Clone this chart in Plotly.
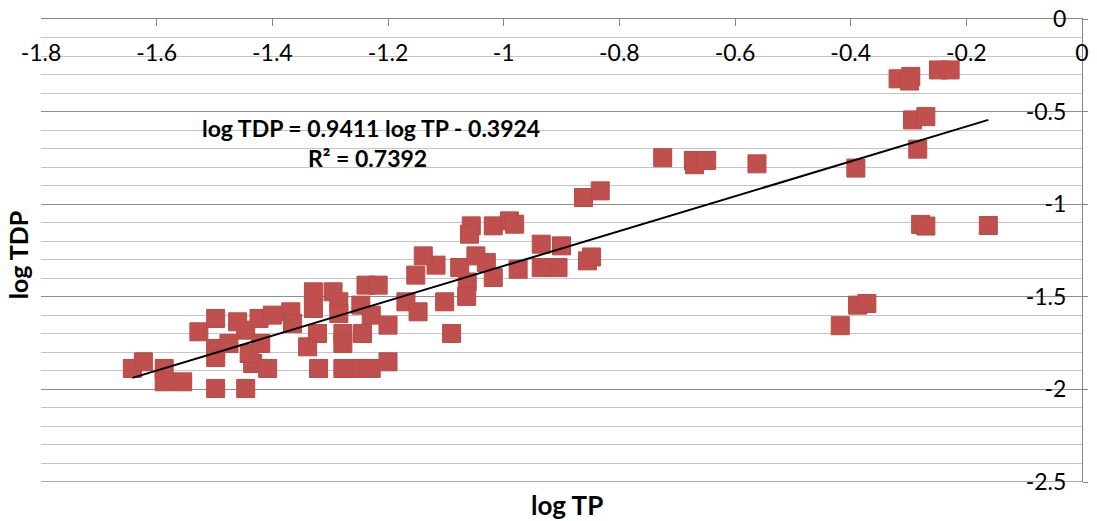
import plotly.graph_objects as go

# log TP (x) and log TDP (y) values
log_tp = [
    -1.642, -1.623, -1.587, -1.587, -1.555, -1.527, -1.498, -1.498, -1.498, -1.498,
    -1.446, -1.460, -1.446, -1.423, -1.400, -1.368, -1.434, -1.408, -1.440, -1.475,
    -1.420, -1.339,
    -1.329, -1.295, -1.329, -1.285, -1.285, -1.238, -1.217, -1.247, -1.229, -1.200,
    -1.169, -1.148, -1.152, -1.117, -1.102, -1.090, -1.063, -1.365, -1.322, -1.278,
    -1.278, -1.244, -1.320, -1.278, -1.247, -1.229, -1.200, -1.064,
    -1.056, -1.059, -1.018, -0.990, -0.981, -0.935, -0.900, -0.855, -0.848, -0.906,
    -0.935, -0.975, -1.139, -1.076, -1.048, -1.030, -1.018,
    -0.862, -0.833, -0.725, -0.672, -0.670, -0.649, -0.562, -0.391, -0.318, -0.296,
    -0.298, -0.248, -0.228, -0.293, -0.270, -0.284, -0.279, -0.270, -0.162, -0.418,
    -0.388, -0.372,
]
log_tdp = [
    -1.887, -1.851, -1.887, -1.959, -1.959, -1.689, -1.617, -1.779, -1.828, -1.995,
    -1.995, -1.635, -1.680, -1.617, -1.599, -1.581, -1.860, -1.887, -1.806, -1.752,
    -1.752, -1.770,
    -1.473, -1.473, -1.563, -1.527, -1.590, -1.437, -1.437, -1.545, -1.599, -1.653,
    -1.527, -1.581, -1.383, -1.329, -1.527, -1.698, -1.420, -1.644, -1.698, -1.698,
    -1.752, -1.698, -1.887, -1.887, -1.887, -1.887, -1.851, -1.498,
    -1.117, -1.162, -1.117, -1.090, -1.108, -1.216, -1.225, -1.306, -1.285, -1.342,
    -1.342, -1.351, -1.279, -1.342, -1.279, -1.315, -1.396,
    -0.964, -0.928, -0.749, -0.764, -0.787, -0.764, -0.782, -0.805, -0.323, -0.310,
    -0.335, -0.275, -0.275, -0.545, -0.527, -0.703, -1.109, -1.118, -1.115, -1.656,
    -1.545, -1.536,
]

# Linear trend (from the chart's equation)
slope = 0.9411
intercept = -0.3924
r2 = 0.7392

x_ticks = [-1.8, -1.6, -1.4, -1.2, -1.0, -0.8, -0.6, -0.4, -0.2, 0.0]
x_tick_text = ["-1.8", "-1.6", "-1.4", "-1.2", "-1", "-0.8", "-0.6", "-0.4", "-0.2", "0"]
y_ticks = [0.0, -0.5, -1.0, -1.5, -2.0, -2.5]
y_tick_text = ["0", "-0.5", "-1", "-1.5", "-2", "-2.5"]

FONT = "Lato"
TICK_SIZE = 23
X_RANGE = [-1.8, 0]
Y_RANGE = [-2.5, 0]

fig = go.Figure()

fig.add_trace(go.Scatter(
    x=log_tp, y=log_tdp, mode="markers",
    marker=dict(symbol="square", size=18, color="#C0504D",
                line=dict(color="#B84B48", width=1)),
    showlegend=False, hoverinfo="x+y",
))

x0, x1 = min(log_tp), max(log_tp)
fig.add_trace(go.Scatter(
    x=[x0, x1], y=[slope * x0 + intercept, slope * x1 + intercept],
    mode="lines", line=dict(color="black", width=2), showlegend=False,
))

# empty trace that carries the label-only axes
fig.add_trace(go.Scatter(x=[], y=[], xaxis="x2", yaxis="y2", showlegend=False))

fig.update_layout(
    width=1097, height=521,
    margin=dict(l=41, r=15, t=19, b=39, autoexpand=False),
    paper_bgcolor="white", plot_bgcolor="white",
    font=dict(family=FONT, size=20, color="black"),
    xaxis=dict(
        side="top", range=X_RANGE, tickmode="array", tickvals=x_ticks,
        ticks="inside", ticklen=7, tickcolor="#868686", tickwidth=1,
        showticklabels=False, showgrid=False, zeroline=False, automargin=False,
        showline=True, linecolor="#868686", linewidth=1.3,
    ),
    yaxis=dict(
        side="right", range=Y_RANGE, tickmode="array", tickvals=y_ticks,
        ticks="outside", ticklen=5, tickcolor="#868686",
        showticklabels=False, automargin=False,
        showgrid=True, gridcolor="#8E8E8E", gridwidth=1.3,
        minor=dict(dtick=0.1, tick0=0, showgrid=True, gridcolor="#C4C4C4", gridwidth=1.3),
        zeroline=False,
        showline=True, linecolor="#868686", linewidth=1.3,
    ),
    xaxis2=dict(
        overlaying="x", side="top", anchor="free", position=0.9,
        range=X_RANGE, tickmode="array", tickvals=x_ticks, ticktext=x_tick_text,
        ticks="", showgrid=False, zeroline=False, showline=False, automargin=False,
        tickfont=dict(family=FONT, size=TICK_SIZE, color="black"),
    ),
    yaxis2=dict(
        overlaying="y", side="left", anchor="free", position=0.985,
        range=Y_RANGE, tickmode="array", tickvals=y_ticks, ticktext=y_tick_text,
        ticks="", showgrid=False, zeroline=False, showline=False, automargin=False,
        tickfont=dict(family=FONT, size=TICK_SIZE, color="black"),
    ),
    shapes=[
        # bottom major gridline at the lower end of the y range
        dict(type="line", xref="paper", yref="y", x0=0, x1=1,
             y0=Y_RANGE[0], y1=Y_RANGE[0],
             line=dict(color="#8E8E8E", width=1.5), layer="below"),
    ],
    annotations=[
        dict(x=-1.23, y=-0.589, xref="x", yref="y",
             text="<b>log TDP = %.4f log TP - %.4f</b>" % (slope, -intercept),
             showarrow=False, font=dict(family=FONT, size=23, color="black")),
        dict(x=-1.235, y=-0.751, xref="x", yref="y",
             text="<b>R² = %.4f</b>" % r2,
             showarrow=False, font=dict(family=FONT, size=23, color="black")),
        dict(x=0.505, y=-0.05, xref="paper", yref="paper", yanchor="middle",
             text="<b>log TP</b>", showarrow=False,
             font=dict(family=FONT, size=26, color="black")),
        dict(x=-0.022, y=0.49, xref="paper", yref="paper", xanchor="center",
             text="<b>log TDP</b>", textangle=-90, showarrow=False,
             font=dict(family=FONT, size=25, color="black")),
    ],
)

fig.write_html("out.html")
